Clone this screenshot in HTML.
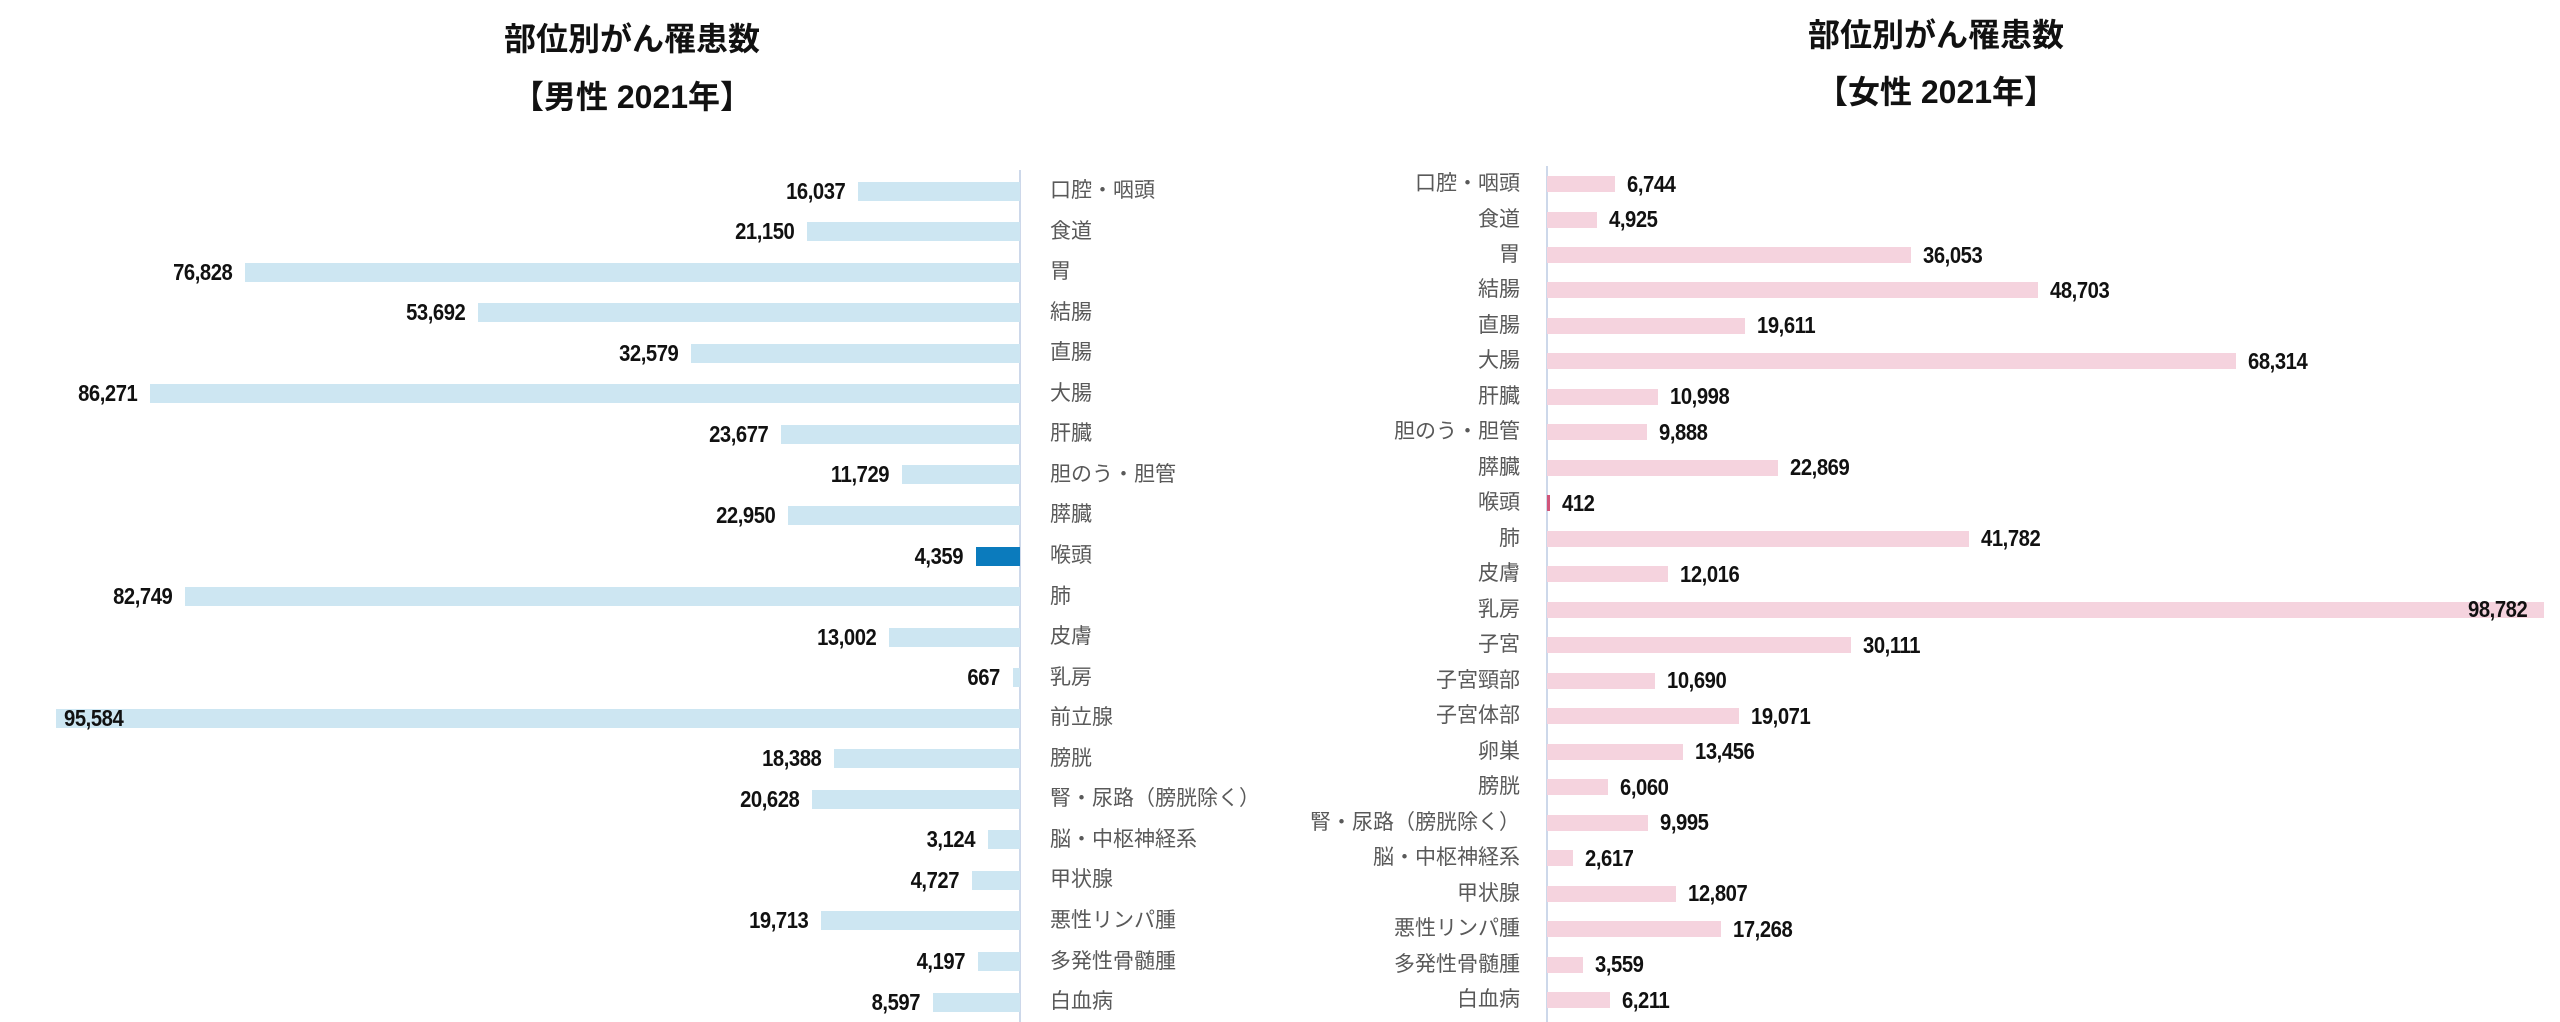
<!DOCTYPE html>
<html><head><meta charset="utf-8">
<style>
body{margin:0;width:2560px;height:1022px;background:#fff;position:relative;overflow:hidden;font-family:"Liberation Sans","Noto Sans CJK JP",sans-serif}
.t{position:absolute;font-weight:bold;font-size:32px;color:#111;text-align:center;width:600px;line-height:40px}
.ax{position:absolute;width:2px;background:#cdd8ea}
.l,.r{position:absolute;height:40px;display:flex;align-items:center}
.l{right:1540px;flex-direction:row-reverse;gap:13px}
.r{left:1547px;gap:12px}
.l b{display:block;height:19px;background:#cde6f2}
.r b{display:block;height:16px;background:#f5d3de}
.v{font-weight:bold;font-size:23px;color:#111;display:inline-block;transform:scaleX(0.88);letter-spacing:-0.5px}
.l .v{transform-origin:right center}
.r .v{transform-origin:left center}
.c{position:absolute;height:40px;line-height:40px;font-size:21px;color:#595959;white-space:nowrap}
.cl{left:1050px}
.cr{right:1040px;text-align:right}
</style></head><body>
<div class="t" style="left:332px;top:19px">部位別がん罹患数</div>
<div class="t" style="left:332px;top:77px">【男性 2021年】</div>
<div class="t" style="left:1636px;top:15px">部位別がん罹患数</div>
<div class="t" style="left:1636px;top:72px">【女性 2021年】</div>
<div class="ax" style="left:1019px;top:170px;height:852px"></div>
<div class="ax" style="left:1546px;top:166px;height:856px"></div>

<div class="l" style="top:171px"><b style="width:162px"></b><span class="v">16,037</span></div>
<div class="l" style="top:211.6px"><b style="width:213px"></b><span class="v">21,150</span></div>
<div class="l" style="top:252.1px"><b style="width:775px"></b><span class="v">76,828</span></div>
<div class="l" style="top:292.7px"><b style="width:542px"></b><span class="v">53,692</span></div>
<div class="l" style="top:333.2px"><b style="width:329px"></b><span class="v">32,579</span></div>
<div class="l" style="top:373.8px"><b style="width:870px"></b><span class="v">86,271</span></div>
<div class="l" style="top:414.3px"><b style="width:239px"></b><span class="v">23,677</span></div>
<div class="l" style="top:454.9px"><b style="width:118px"></b><span class="v">11,729</span></div>
<div class="l" style="top:495.4px"><b style="width:232px"></b><span class="v">22,950</span></div>
<div class="l" style="top:536px"><b style="width:44px;background:#0b7bbd"></b><span class="v">4,359</span></div>
<div class="l" style="top:576.5px"><b style="width:835px"></b><span class="v">82,749</span></div>
<div class="l" style="top:617.1px"><b style="width:131px"></b><span class="v">13,002</span></div>
<div class="l" style="top:657.6px"><b style="width:7px"></b><span class="v">667</span></div>
<div class="l" style="top:698.2px"><b style="width:964px"></b></div>
<div style="position:absolute;left:64px;top:698.2px;height:40px;display:flex;align-items:center"><span class="v" style="transform-origin:left center">95,584</span></div>
<div class="l" style="top:738.7px"><b style="width:186px"></b><span class="v">18,388</span></div>
<div class="l" style="top:779.3px"><b style="width:208px"></b><span class="v">20,628</span></div>
<div class="l" style="top:819.8px"><b style="width:32px"></b><span class="v">3,124</span></div>
<div class="l" style="top:860.4px"><b style="width:48px"></b><span class="v">4,727</span></div>
<div class="l" style="top:900.9px"><b style="width:199px"></b><span class="v">19,713</span></div>
<div class="l" style="top:941.5px"><b style="width:42px"></b><span class="v">4,197</span></div>
<div class="l" style="top:982px"><b style="width:87px"></b><span class="v">8,597</span></div>

<div class="c cl" style="top:171px">口腔・咽頭</div>
<div class="c cl" style="top:211.6px">食道</div>
<div class="c cl" style="top:252.1px">胃</div>
<div class="c cl" style="top:292.7px">結腸</div>
<div class="c cl" style="top:333.2px">直腸</div>
<div class="c cl" style="top:373.8px">大腸</div>
<div class="c cl" style="top:414.3px">肝臓</div>
<div class="c cl" style="top:454.9px">胆のう・胆管</div>
<div class="c cl" style="top:495.4px">膵臓</div>
<div class="c cl" style="top:536px">喉頭</div>
<div class="c cl" style="top:576.5px">肺</div>
<div class="c cl" style="top:617.1px">皮膚</div>
<div class="c cl" style="top:657.6px">乳房</div>
<div class="c cl" style="top:698.2px">前立腺</div>
<div class="c cl" style="top:738.7px">膀胱</div>
<div class="c cl" style="top:779.3px">腎・尿路（膀胱除く）</div>
<div class="c cl" style="top:819.8px">脳・中枢神経系</div>
<div class="c cl" style="top:860.4px">甲状腺</div>
<div class="c cl" style="top:900.9px">悪性リンパ腫</div>
<div class="c cl" style="top:941.5px">多発性骨髄腫</div>
<div class="c cl" style="top:982px">白血病</div>

<div class="r" style="top:164px"><b style="width:68px"></b><span class="v">6,744</span></div>
<div class="r" style="top:199.5px"><b style="width:50px"></b><span class="v">4,925</span></div>
<div class="r" style="top:235px"><b style="width:364px"></b><span class="v">36,053</span></div>
<div class="r" style="top:270.4px"><b style="width:491px"></b><span class="v">48,703</span></div>
<div class="r" style="top:305.9px"><b style="width:198px"></b><span class="v">19,611</span></div>
<div class="r" style="top:341.4px"><b style="width:689px"></b><span class="v">68,314</span></div>
<div class="r" style="top:376.9px"><b style="width:111px"></b><span class="v">10,998</span></div>
<div class="r" style="top:412.4px"><b style="width:100px"></b><span class="v">9,888</span></div>
<div class="r" style="top:447.8px"><b style="width:231px"></b><span class="v">22,869</span></div>
<div class="r" style="top:483.3px"><b style="width:3px;background:#d0557a"></b><span class="v">412</span></div>
<div class="r" style="top:518.8px"><b style="width:422px"></b><span class="v">41,782</span></div>
<div class="r" style="top:554.3px"><b style="width:121px"></b><span class="v">12,016</span></div>
<div class="r" style="top:589.8px"><b style="width:997px"></b></div>
<div style="position:absolute;left:2468px;top:589.8px;height:40px;display:flex;align-items:center"><span class="v" style="transform-origin:left center">98,782</span></div>
<div class="r" style="top:625.2px"><b style="width:304px"></b><span class="v">30,111</span></div>
<div class="r" style="top:660.7px"><b style="width:108px"></b><span class="v">10,690</span></div>
<div class="r" style="top:696.2px"><b style="width:192px"></b><span class="v">19,071</span></div>
<div class="r" style="top:731.7px"><b style="width:136px"></b><span class="v">13,456</span></div>
<div class="r" style="top:767.2px"><b style="width:61px"></b><span class="v">6,060</span></div>
<div class="r" style="top:802.6px"><b style="width:101px"></b><span class="v">9,995</span></div>
<div class="r" style="top:838.1px"><b style="width:26px"></b><span class="v">2,617</span></div>
<div class="r" style="top:873.6px"><b style="width:129px"></b><span class="v">12,807</span></div>
<div class="r" style="top:909.1px"><b style="width:174px"></b><span class="v">17,268</span></div>
<div class="r" style="top:944.6px"><b style="width:36px"></b><span class="v">3,559</span></div>
<div class="r" style="top:980px"><b style="width:63px"></b><span class="v">6,211</span></div>

<div class="c cr" style="top:164px">口腔・咽頭</div>
<div class="c cr" style="top:199.5px">食道</div>
<div class="c cr" style="top:235px">胃</div>
<div class="c cr" style="top:270.4px">結腸</div>
<div class="c cr" style="top:305.9px">直腸</div>
<div class="c cr" style="top:341.4px">大腸</div>
<div class="c cr" style="top:376.9px">肝臓</div>
<div class="c cr" style="top:412.4px">胆のう・胆管</div>
<div class="c cr" style="top:447.8px">膵臓</div>
<div class="c cr" style="top:483.3px">喉頭</div>
<div class="c cr" style="top:518.8px">肺</div>
<div class="c cr" style="top:554.3px">皮膚</div>
<div class="c cr" style="top:589.8px">乳房</div>
<div class="c cr" style="top:625.2px">子宮</div>
<div class="c cr" style="top:660.7px">子宮頸部</div>
<div class="c cr" style="top:696.2px">子宮体部</div>
<div class="c cr" style="top:731.7px">卵巣</div>
<div class="c cr" style="top:767.2px">膀胱</div>
<div class="c cr" style="top:802.6px">腎・尿路（膀胱除く）</div>
<div class="c cr" style="top:838.1px">脳・中枢神経系</div>
<div class="c cr" style="top:873.6px">甲状腺</div>
<div class="c cr" style="top:909.1px">悪性リンパ腫</div>
<div class="c cr" style="top:944.6px">多発性骨髄腫</div>
<div class="c cr" style="top:980px">白血病</div>
</body></html>
